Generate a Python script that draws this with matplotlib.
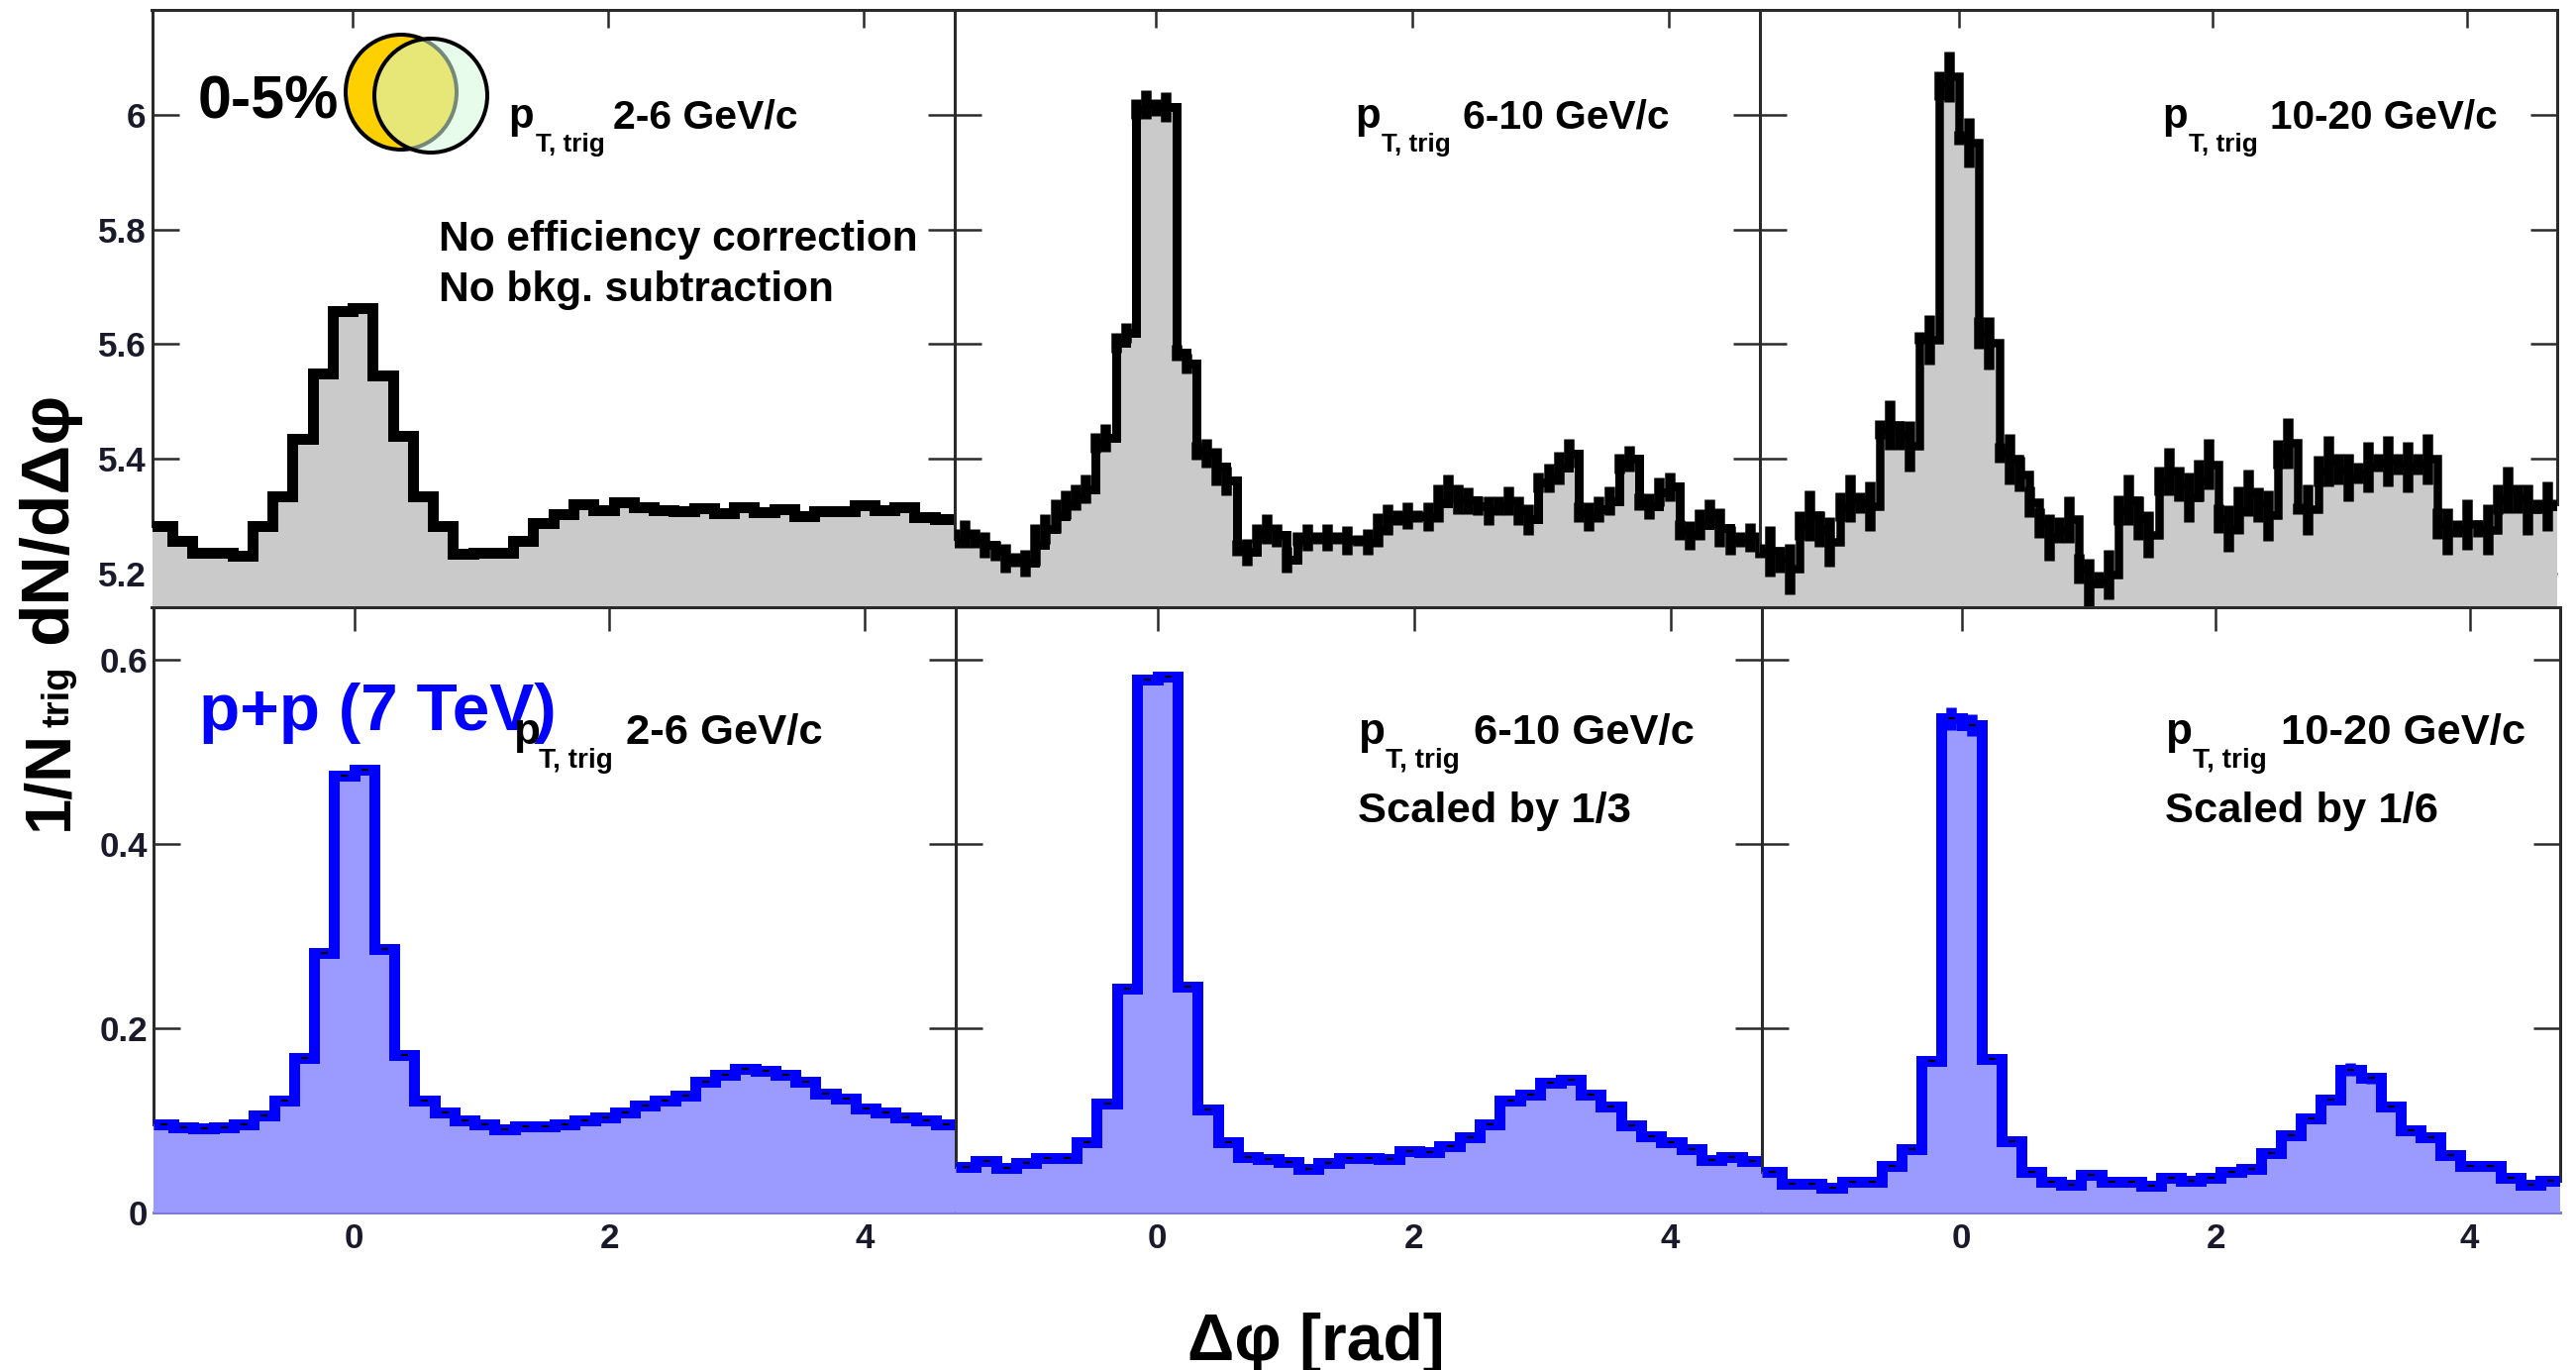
import numpy as np
import matplotlib
matplotlib.use("Agg")
import matplotlib.pyplot as plt
from matplotlib.patches import Ellipse

plt.rcParams['font.family'] = ['Liberation Sans', 'DejaVu Sans']
plt.rcParams['font.weight'] = 'bold'

W, H = 2601, 1383

# Au+Au style panels (top row)
top_a = [5.283, 5.257, 5.236, 5.236, 5.230, 5.283, 5.335, 5.435, 5.549, 5.658,
         5.663, 5.545, 5.440, 5.335, 5.283, 5.234, 5.236, 5.236, 5.257, 5.288,
         5.304, 5.320, 5.310, 5.325, 5.316, 5.310, 5.309, 5.314, 5.305, 5.315,
         5.307, 5.312, 5.300, 5.309, 5.309, 5.319, 5.310, 5.315, 5.298, 5.295]

top_b = [5.261, 5.269, 5.261, 5.250, 5.240, 5.226, 5.224, 5.218, 5.250, 5.278,
         5.300, 5.320, 5.333, 5.347, 5.428, 5.436, 5.602, 5.620, 6.010, 6.018,
         6.013, 6.013, 5.585, 5.566, 5.414, 5.409, 5.386, 5.362, 5.245, 5.237,
         5.270, 5.278, 5.267, 5.224, 5.261, 5.263, 5.262, 5.263, 5.262, 5.258,
         5.258, 5.255, 5.276, 5.294, 5.297, 5.301, 5.300, 5.299, 5.323, 5.347,
         5.330, 5.327, 5.318, 5.310, 5.318, 5.326, 5.310, 5.294, 5.359, 5.367,
         5.384, 5.409, 5.307, 5.299, 5.312, 5.326, 5.391, 5.400, 5.325, 5.317,
         5.342, 5.351, 5.276, 5.267, 5.285, 5.304, 5.280, 5.258, 5.260, 5.263,
         5.250]
top_b_err = [.017, .024, .017, .023, .017, .025, .012, .023, .037, .026,
             .030, .025, .023, .025, .017, .024, .017, .017, .017, .025,
             .015, .026, .014, .017, .015, .025, .033, .025, .014, .024,
             .017, .026, .020, .023, .012, .024, .010, .024, .010, .025,
             .010, .023, .029, .026, .013, .023, .010, .025, .033, .025,
             .026, .023, .017, .025, .017, .025, .025, .026, .017, .025,
             .028, .025, .017, .025, .022, .025, .017, .023, .014, .022,
             .025, .025, .017, .025, .027, .025, .033, .025, .013, .025,
             .023]

top_c = [5.239, 5.239, 5.224, 5.208, 5.284, 5.301, 5.278, 5.255, 5.316, 5.331,
         5.323, 5.317, 5.451, 5.459, 5.441, 5.422, 5.611, 5.608, 6.051, 6.067,
         5.960, 5.952, 5.620, 5.602, 5.411, 5.400, 5.373, 5.325, 5.288, 5.263,
         5.276, 5.294, 5.209, 5.183, 5.189, 5.198, 5.310, 5.328, 5.297, 5.268,
         5.362, 5.378, 5.356, 5.333, 5.362, 5.390, 5.296, 5.278, 5.310, 5.341,
         5.320, 5.301, 5.408, 5.427, 5.313, 5.312, 5.379, 5.396, 5.382, 5.367,
         5.375, 5.386, 5.393, 5.396, 5.390, 5.386, 5.390, 5.400, 5.287, 5.273,
         5.278, 5.286, 5.278, 5.276, 5.330, 5.346, 5.331, 5.312, 5.318, 5.317,
         5.320]
top_c_err = [.012, .044, .023, .044, .025, .044, .031, .044, .025, .041,
             .018, .043, .017, .043, .025, .044, .010, .043, .025, .044,
             .012, .043, .028, .046, .017, .044, .030, .026, .026, .041,
             .023, .041, .026, .043, .014, .043, .026, .044, .038, .041,
             .025, .041, .030, .043, .036, .044, .025, .041, .041, .041,
             .030, .044, .025, .044, .010, .044, .027, .044, .026, .041,
             .018, .044, .015, .044, .018, .044, .018, .044, .026, .041,
             .015, .044, .015, .044, .026, .041, .025, .044, .012, .043,
             .010]

# p+p panels (bottom row)
bot_a = [.0960, .0923, .0913, .0927, .0960, .1055, .1220, .1680, .2816, .4737,
         .4803, .2855, .1710, .1220, .1090, .1000, .0960, .0904, .0937, .0937,
         .0960, .1000, .1030, .1090, .1164, .1220, .1270, .1420, .1490, .1560,
         .1540, .1490, .1420, .1290, .1240, .1130, .1090, .1030, .1000, .0960]

bot_b = [.0497, .0558, .0487, .0535, .0596, .0592, .0762, .1183, .2428, .5788,
         .5812, .2451, .1117, .0762, .0606, .0582, .0544, .0473, .0535, .0592,
         .0592, .0582, .0663, .0653, .0724, .0819, .0961, .1212, .1283, .1410,
         .1443, .1283, .1150, .0951, .0828, .0762, .0691, .0573, .0606, .0558]

bot_c = [.0440, .0312, .0312, .0274, .0336, .0336, .0502, .0691, .1647, .5362,
         .5291, .1671, .0771, .0440, .0336, .0298, .0407, .0336, .0336, .0289,
         .0379, .0345, .0379, .0440, .0478, .0644, .0842, .1017, .1221, .1552,
         .1458, .1150, .0890, .0819, .0629, .0502, .0502, .0379, .0298, .0345]
bot_c_err = [.002, .002, .002, .002, .002, .002, .002, .003, .005, .012,
             .012, .005, .003, .002, .002, .002, .002, .002, .002, .002,
             .002, .002, .002, .002, .002, .003, .003, .004, .004, .007,
             .006, .005, .004, .004, .003, .002, .002, .002, .002, .002]

top_ticks = [5.2, 5.4, 5.6, 5.8, 6]
top_ticklabels = ['5.2', '5.4', '5.6', '5.8', '6']
bot_ticks = [0, 0.2, 0.4, 0.6]
bot_ticklabels = ['0', '0.2', '0.4', '0.6']
x_ticks = [0, 2, 4]

top_edges = [(153.5, 964), (964, 1777), (1777, 2582)]
bot_edges = [(155, 965), (965, 1779), (1779, 2585)]

xmin, xmax = -np.pi / 2, 3 * np.pi / 2
dark = '#2a2a2a'


def px(v):
    return v * 72 / 100


def label(x, y, s, size, color='black', **kw):
    fig.text(x / W, 1 - y / H, s, fontsize=px(size), color=color,
             ha='left', va='baseline', fontweight='bold', zorder=5, **kw)


def panel(box, ylim, ticks, values, errs, line, fill, ticklabels, xlabels, tick_len, lw, dash):
    x0, x1, y0, y1 = box
    ax = fig.add_axes([x0 / W, 1 - y1 / H, (x1 - x0) / W, (y1 - y0) / H])
    v = np.array(values)
    dx = 2 * np.pi / (len(v) if len(v) == 40 else 80)
    x = xmin + np.arange(len(v)) * dx
    if len(v) == 40:
        xs = np.append(x, x[-1] + dx)
        vs = np.append(v, v[-1])
    else:
        xs, vs = x, v
    ax.fill_between(xs, vs, ylim[0], step='post', color=fill, lw=0, zorder=3)
    ax.step(xs, vs, where='post', color=line, lw=px(lw), zorder=4,
            solid_joinstyle='miter', solid_capstyle='butt')
    if errs is not None:
        ex = x if len(v) != 40 else x + dx / 2
        ax.errorbar(ex, v, yerr=errs, fmt='none', ecolor=line, elinewidth=px(10.5),
                    capsize=0, zorder=4)
    if dash:
        ax.plot(x + dx / 2, v, ls='none', marker='_', ms=px(7), mew=px(2.2),
                color='black', zorder=5)
    ax.set_xlim(xmin, xmax)
    ax.set_ylim(*ylim)
    ax.set_axisbelow(True)
    ax.set_xticks(x_ticks)
    ax.set_yticks(ticks)
    ax.set_yticklabels(ticklabels if ticklabels else [])
    ax.tick_params(axis='y', left=True, right=True, direction='in', length=px(27),
                   width=px(2.5), color=dark, labelsize=px(35), labelcolor='#1a1a2a',
                   pad=px(6), labelleft=bool(ticklabels))
    ax.tick_params(axis='x', top=True, bottom=False, direction='in', length=px(tick_len),
                   width=px(2.5), color=dark, labelsize=px(35), labelcolor='#1a1a2a',
                   pad=px(10), labelbottom=xlabels)
    for s in ax.spines.values():
        s.set_linewidth(px(3))
        s.set_color(dark)
    ax.spines['left'].set_bounds(v[0], ylim[1])
    ax.spines['right'].set_bounds(v[-1], ylim[1])
    return ax


fig = plt.figure(figsize=(W / 100, H / 100), dpi=100)

top_ylim = (5.141, 6.183)
bot_ylim = (0, 0.657)
panel((*top_edges[0], 10, 613), top_ylim, top_ticks, top_a, None, 'black', '#cacaca',
      top_ticklabels, False, 18, 11, False)
panel((*top_edges[1], 10, 613), top_ylim, top_ticks, top_b, top_b_err, 'black', '#cacaca',
      None, False, 18, 9, False)
panel((*top_edges[2], 10, 613), top_ylim, top_ticks, top_c, top_c_err, 'black', '#cacaca',
      None, False, 18, 8.5, False)

ax = panel((*bot_edges[0], 613, 1224), bot_ylim, bot_ticks, bot_a, None, '#0000ff', '#9a9aff',
           bot_ticklabels, True, 24, 11, True)
ax.spines['bottom'].set_color('#7c7cd8')
ax = panel((*bot_edges[1], 613, 1224), bot_ylim, bot_ticks, bot_b, None, '#0000ff', '#9a9aff',
           None, True, 24, 11, True)
ax.spines['bottom'].set_color('#7c7cd8')
ax = panel((*bot_edges[2], 613, 1224), bot_ylim, bot_ticks, bot_c, bot_c_err, '#0000ff', '#9a9aff',
           None, True, 24, 11, True)
ax.spines['bottom'].set_color('#7c7cd8')

# top row annotations
label(200, 120, '0-5%', 61)
label(513, 129, 'p', 42)
label(541, 153, 'T, trig', 26)
label(619, 129, '2-6 GeV/c', 41)
label(1368, 129, 'p', 42)
label(1395, 153, 'T, trig', 26)
label(1477, 129, '6-10 GeV/c', 40.7)
label(2183, 129, 'p', 42)
label(2210, 153, 'T, trig', 26)
label(2292, 129, '10-20 GeV/c', 40.5)
label(443, 253, 'No efficiency correction', 42.5)
label(443, 304, 'No bkg. subtraction', 42.5)

# bottom row annotations
label(201, 737, 'p+p (7 TeV)', 67.5, color='#0000ff')
label(518, 751, 'p', 44)
label(544, 775, 'T, trig', 28)
label(632, 751, '2-6 GeV/c', 43.5)
label(1371, 751, 'p', 44)
label(1399, 775, 'T, trig', 28)
label(1488, 751, '6-10 GeV/c', 43.5)
label(1371, 830, 'Scaled by 1/3', 43.5)
label(2186, 751, 'p', 44)
label(2214, 775, 'T, trig', 28)
label(2303, 751, '10-20 GeV/c', 43.5)
label(2186, 830, 'Scaled by 1/6', 43.5)

# collision sketch
fig.add_artist(Ellipse((405 / W, 1 - 93 / H), 112 / W, 116 / H, transform=fig.transFigure,
                       fc='#ffd000', ec='black', lw=px(4), zorder=4))
fig.add_artist(Ellipse((435 / W, 1 - 96.5 / H), 114 / W, 115 / H, transform=fig.transFigure,
                       fc=(213 / 255, 251 / 255, 218 / 255, 0.55), ec='black', lw=px(4), zorder=4))

# axis titles
label(1199, 1373, 'Δφ [rad]', 66)
fig.text(67 / W, 1 - 838 / H, '1/N', fontsize=px(65), fontweight='bold', rotation=90,
         rotation_mode='anchor', ha='left', va='baseline')
fig.text(70 / W, 1 - 734 / H, 'trig', fontsize=px(38), fontweight='bold', rotation=90,
         rotation_mode='anchor', ha='left', va='baseline')
fig.text(67 / W, 1 - 650 / H, 'dN/dΔφ', fontsize=px(69.5), fontweight='bold', rotation=90,
         rotation_mode='anchor', ha='left', va='baseline')

fig.savefig('out.png', dpi=100, facecolor='white')
